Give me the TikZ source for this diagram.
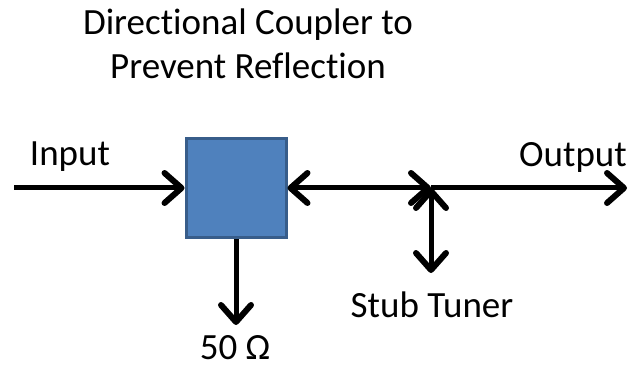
\documentclass[tikz,border=0pt]{standalone}
\usepackage{fontspec}
\setmainfont[Ligatures=NoCommon]{Carlito}
\usetikzlibrary{arrows.meta}
\definecolor{boxfill}{HTML}{4F81BD}
\definecolor{boxline}{HTML}{385D8A}
\tikzset{barb/.tip={Straight Barb[length=17pt,width=30pt,line width=6pt,round]}}
\begin{document}
\begin{tikzpicture}[x=1pt,y=-1pt,
  wire/.style={line width=5pt,barb-barb},
  wireone/.style={line width=5pt,-barb},
  lbl/.style={font=\fontsize{37}{44}\selectfont,inner sep=0pt}]
\useasboundingbox (0,0) rectangle (631,371);
\node[draw=boxline,fill=boxfill,line width=3pt,minimum width=100pt,minimum height=99pt,inner sep=0pt] (box) at (236,188) {};
\coordinate (in) at (14,188);
\coordinate (j) at (431,188);
\coordinate (out) at (627,188);
\coordinate (stub) at (431,273);
\coordinate (load) at (236,325);
\draw[wireone] (in) -- (box.west);
\draw[wire] (box.east) -- (j);
\draw[wireone] (j) -- (out);
\draw[wire] (j) -- (stub);
\draw[wireone] (box.south) -- (load);
\node[lbl,align=center] (title) at (248,44) {Directional Coupler to\\Prevent Reflection};
\node[lbl] (input) at (70,157) {Input};
\node[lbl] (output) at (573,157) {Output};
\node[lbl] (stubt) at (432,305) {Stub Tuner};
\node[lbl] (fifty) at (235,348) {50 Ω};
\end{tikzpicture}
\end{document}
